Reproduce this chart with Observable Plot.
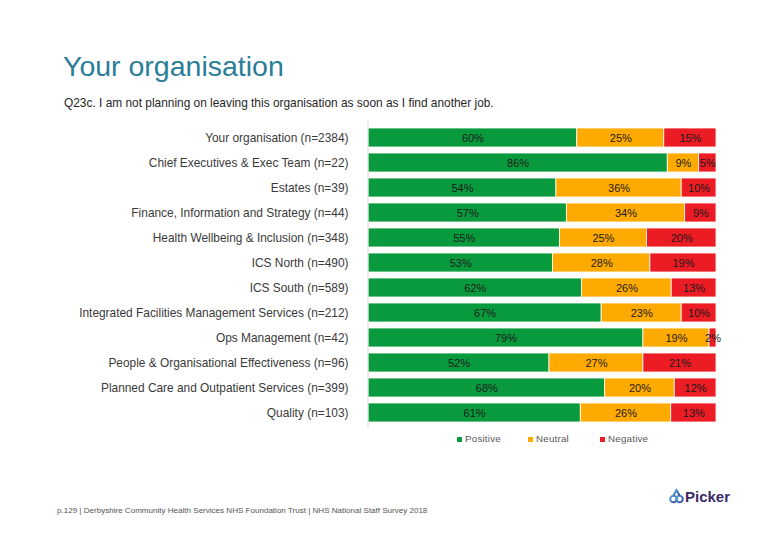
<!DOCTYPE html>
<html>
<head>
<meta charset="utf-8">
<script src="https://cdn.jsdelivr.net/npm/d3@7"></script>
<script src="https://cdn.jsdelivr.net/npm/@observablehq/plot@0.6"></script>
<style>
  html, body { margin: 0; padding: 0; background: #fff; }
  body { width: 780px; height: 540px; position: relative; overflow: hidden; font-family: "Liberation Sans", Arial, sans-serif; }
  .abs { position: absolute; white-space: nowrap; }
  #title { left: 63px; top: 50px; font-size: 28.5px; color: #2b7e98; }
  #subtitle { left: 64px; top: 96px; font-size: 11.9px; color: #262626; }
  #chart { left: 0; top: 110px; }
  #legend { top: 433px; left: 0; font-size: 9.8px; color: #595959; letter-spacing: 0.2px; }
  .sw { position: absolute; width: 5px; height: 5px; top: 4px; }
  #footer { left: 57px; top: 506px; font-size: 8.05px; color: #555; }
  #logo { left: 669px; top: 486px; }
</style>
</head>
<body>
<div id="title" class="abs">Your organisation</div>
<div id="subtitle" class="abs">Q23c. I am not planning on leaving this organisation as soon as I find another job.</div>
<div id="chart" class="abs"></div>
<div id="legend" class="abs"></div>
<div id="footer" class="abs">p.129 | Derbyshire Community Health Services NHS Foundation Trust | NHS National Staff Survey 2018</div>
<div id="logo" class="abs">
  <svg width="62" height="20" viewBox="0 0 62 20">
    <defs>
      <linearGradient id="lg" x1="0" x2="1" y1="0" y2="1">
        <stop offset="0" stop-color="#5aa7e0"/>
        <stop offset="1" stop-color="#2f4f9e"/>
      </linearGradient>
    </defs>
    <circle cx="4.5" cy="13" r="3.3" fill="none" stroke="url(#lg)" stroke-width="2"/>
    <circle cx="10.5" cy="13" r="3.3" fill="none" stroke="url(#lg)" stroke-width="2"/>
    <path d="M4.5 9.5 L7.5 4 L10.5 9.5" fill="none" stroke="url(#lg)" stroke-width="2"/>
    <text x="16" y="16" font-family="Liberation Sans, Arial, sans-serif" font-weight="bold" font-size="15" fill="#3a2c69">Picker</text>
  </svg>
</div>
<script>
const categories = [
  "Your organisation (n=2384)",
  "Chief Executives & Exec Team (n=22)",
  "Estates (n=39)",
  "Finance, Information and Strategy (n=44)",
  "Health Wellbeing & Inclusion (n=348)",
  "ICS North (n=490)",
  "ICS South (n=589)",
  "Integrated Facilities Management Services (n=212)",
  "Ops Management (n=42)",
  "People & Organisational Effectiveness (n=96)",
  "Planned Care and Outpatient Services (n=399)",
  "Quality (n=103)"
];
const positive = [60, 86, 54, 57, 55, 53, 62, 67, 79, 52, 68, 61];
const neutral  = [25,  9, 36, 34, 25, 28, 26, 23, 19, 27, 20, 26];
const negative = [15,  5, 10,  9, 20, 19, 13, 10,  2, 21, 12, 13];
const seriesNames = ["Positive", "Neutral", "Negative"];
const seriesColors = ["#0a9a3e", "#ffaa00", "#ec1c24"];

const series = [positive, neutral, negative];
const data = [];
categories.forEach((c, i) => {
  seriesNames.forEach((s, j) => {
    data.push({category: c, series: s, value: series[j][i]});
  });
});

const stackOpts = {x: "value", y: "category", order: seriesNames, offset: "normalize"};

const chart = Plot.plot({
  width: 780,
  height: 330,
  marginLeft: 368,
  marginRight: 64,
  marginTop: 11.5,
  marginBottom: 11.3,
  style: {fontFamily: "Liberation Sans, Arial, sans-serif", background: "transparent"},
  x: {axis: null, domain: [0, 1]},
  y: {domain: categories, padding: 0.24, label: null, tickSize: 0, tickPadding: 20},
  color: {domain: seriesNames, range: seriesColors},
  marks: [
    Plot.barX(data, Plot.stackX({...stackOpts, fill: "series", stroke: "white", strokeWidth: 0.8})),
    Plot.text(data, Plot.stackX({...stackOpts, z: "series", text: d => d.value + "%", fill: "#1a1a1a", fontSize: 11, letterSpacing: 0.6})),
    Plot.ruleX([0], {stroke: "#d9d9d9", strokeWidth: 1, dx: -0.5}),
    Plot.axisY({tickSize: 0, tickPadding: 20, fontSize: 11.9, fill: "#3a3a3a", label: null})
  ]
});
document.getElementById("chart").appendChild(chart);

// legend
const legend = document.getElementById("legend");
const legendX = [457, 528, 600];
seriesNames.forEach((s, j) => {
  const sw = document.createElement("div");
  sw.className = "sw";
  sw.style.left = legendX[j] + "px";
  sw.style.background = seriesColors[j];
  legend.appendChild(sw);
  const t = document.createElement("div");
  t.className = "abs";
  t.style.left = (legendX[j] + 8) + "px";
  t.style.top = "0px";
  t.textContent = s;
  legend.appendChild(t);
});
</script>
</body>
</html>
